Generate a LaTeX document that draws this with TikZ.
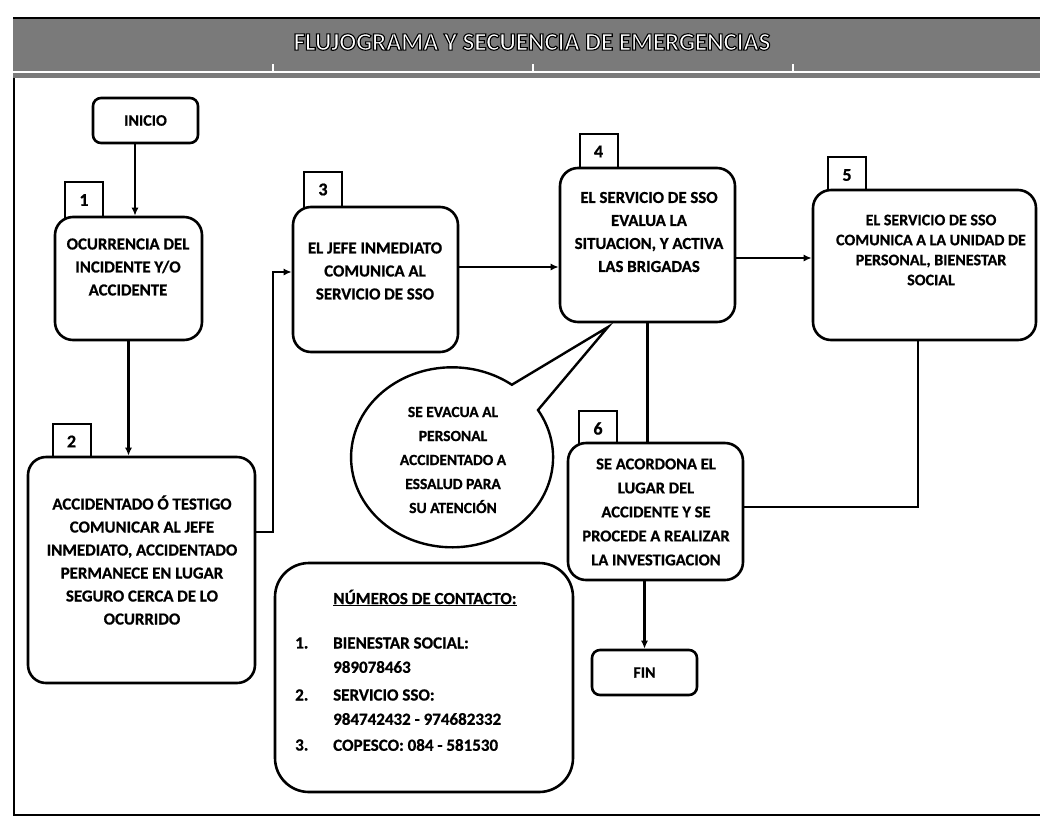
\documentclass[tikz,border=0pt]{standalone}
\usepackage{fontspec}
\setmainfont{Carlito}
\newfontfamily\bodyfont{Carlito}[BoldFeatures={FakeBold=0.8}]
\usetikzlibrary{arrows.meta,calc}
\definecolor{hdr}{HTML}{7A7A7A}
\newcommand{\outlinedtext}[1]{\special{pdf:literal direct q 2 Tr 1.1 w 0 G 1 g}#1\special{pdf:literal direct Q}}
\begin{document}
\begin{tikzpicture}[x=1pt,y=-1pt,
  box/.style={draw, line width=2.6pt, rounded corners=18pt, fill=white, inner sep=0pt},
  termbox/.style={draw, line width=2.6pt, rounded corners=8pt, fill=white, minimum width=105pt, minimum height=45pt, inner sep=0pt, font=\bodyfont\fontsize{16}{16}\selectfont\bfseries},
  numbox/.style={draw, line width=2pt, minimum width=38pt, minimum height=36pt, inner sep=0pt, fill=white, font=\bodyfont\fontsize{18}{18}\selectfont\bfseries},
  txt/.style={align=center, inner sep=0pt, font=\bodyfont\fontsize{16.8}{23}\selectfont\bfseries},
  ctxt/.style={anchor=west, inner sep=0pt, font=\bodyfont\fontsize{17}{17}\selectfont\bfseries},
  conn/.style={line width=2.2pt},
  arr/.style={conn, -{Latex[length=8pt,width=7pt]}},
  titletxt/.style={inner sep=0pt, font=\fontsize{25}{25}\selectfont\bfseries}
]
\useasboundingbox (0,0) rectangle (1040,825);
\fill[white] (0,0) rectangle (1040,825);

% header band
\fill[hdr] (13,18) rectangle (1040,78);
\draw[line width=2.4pt] (13,18) -- (1040,18);
\draw[white, line width=1.3pt] (13,72) -- (1040,72);
\foreach \tx in {273,533,793} \draw[white, line width=1.3pt] (\tx,64) -- (\tx,72);
\node[titletxt, text=white] (title) at (532,42) {\outlinedtext{FLUJOGRAMA Y SECUENCIA DE EMERGENCIAS}};

% frame
\draw[line width=1.6pt] (14,78) -- (14,815) -- (1040,815);

% number labels
\node[numbox] (n1) at (84,200) {1};
\node[numbox] (n2) at (71.5,441.5) {2};
\node[numbox] (n3) at (323,189.5) {3};
\node[numbox] (n4) at (598.5,151.5) {4};
\node[numbox] (n5) at (847,175) {5};
\node[numbox] (n6) at (598,428.5) {6};

% boxes
\node[termbox] (ini) at (145.5,120.5) {INICIO};
\node[box, minimum width=147pt, minimum height=123pt] (b1) at (128.5,278.5) {};
\node[box, minimum width=227pt, minimum height=226pt] (b2) at (141.5,570) {};
\node[box, minimum width=165pt, minimum height=145pt] (b3) at (375.5,279.5) {};
\node[box, minimum width=175pt, minimum height=154pt] (b4) at (647.5,245) {};
\node[box, minimum width=223pt, minimum height=150pt] (b5) at (924.5,265) {};
\node[box, minimum width=175pt, minimum height=137pt] (b6) at (655.5,511.5) {};
\node[termbox] (fin) at (644.5,672.5) {FIN};
\node[box, rounded corners=34pt, minimum width=298pt, minimum height=229pt] (cont) at (424,677.5) {};

% box texts
\node[txt] (t1) at (128,267) {OCURRENCIA DEL\\INCIDENTE Y/O\\ACCIDENTE};
\node[txt] (t2) at (142,560) {ACCIDENTADO Ó TESTIGO\\COMUNICAR AL JEFE\\INMEDIATO, ACCIDENTADO\\PERMANECE EN LUGAR\\SEGURO CERCA DE LO\\OCURRIDO};
\node[txt] (t3) at (375,271) {EL JEFE INMEDIATO\\COMUNICA AL\\SERVICIO DE SSO};
\node[txt] (t4) at (649,232) {EL SERVICIO DE SSO\\EVALUA LA\\SITUACION, Y ACTIVA\\LAS BRIGADAS};
\node[txt, font=\bodyfont\fontsize{16}{20}\selectfont\bfseries] (t5) at (931,250) {EL SERVICIO DE SSO\\COMUNICA A LA UNIDAD DE\\PERSONAL, BIENESTAR\\SOCIAL};
\node[txt, font=\bodyfont\fontsize{16.5}{24}\selectfont\bfseries] (t6) at (656,512) {SE ACORDONA EL\\LUGAR DEL\\ACCIDENTE Y SE\\PROCEDE A REALIZAR\\LA INVESTIGACION};

% speech bubble
\draw[line width=2.4pt, fill=white, line join=miter] (608,327) coordinate (tip) -- (538,410)
  arc[start angle=31.7, end angle=-306.3, x radius=101pt, y radius=90pt] -- cycle;
\node[txt, font=\bodyfont\fontsize{15.5}{24}\selectfont\bfseries] (tb) at (453,460) {SE EVACUA AL\\PERSONAL\\ACCIDENTADO A\\ESSALUD PARA\\SU ATENCIÓN};

% contacts
\node[inner sep=0pt, font=\bodyfont\fontsize{17}{17}\selectfont\bfseries] (ct) at (425,598) {\underline{NÚMEROS DE CONTACTO:}};
\node[ctxt] (c1n) at (295,643) {1.};
\node[ctxt] (c1a) at (333,643) {BIENESTAR SOCIAL:};
\node[ctxt] (c1b) at (333,667) {989078463};
\node[ctxt] (c2n) at (295,695) {2.};
\node[ctxt] (c2a) at (333,695) {SERVICIO SSO:};
\node[ctxt] (c2b) at (333,719) {984742432 - 974682332};
\node[ctxt] (c3n) at (295,745) {3.};
\node[ctxt] (c3a) at (333,745) {COPESCO: 084 - 581530};

% connectors
\coordinate (xa) at (135,0);
\draw[arr] (ini.south -| xa) -- (b1.north -| xa);
\draw[arr] (b1.south) -- (b1.south |- b2.north);
\coordinate (k1) at (273,532);
\coordinate (k2) at (273,272);
\draw[arr] (k1 -| b2.east) -- (k1) -- (k2) -- (k2 -| b3.west);
\coordinate (y34) at (0,267);
\draw[arr] (y34 -| b3.east) -- (y34 -| b4.west);
\coordinate (y45) at (0,258);
\draw[arr] (y45 -| b4.east) -- (y45 -| b5.west);
\draw[conn] (b4.south) -- (b4.south |- b6.north);
\coordinate (k3) at (918,507);
\draw[conn] (k3 |- b5.south) -- (k3) -- (k3 -| b6.east);
\draw[arr] (b6.south -| fin.north) -- (fin.north);
\end{tikzpicture}
\end{document}
